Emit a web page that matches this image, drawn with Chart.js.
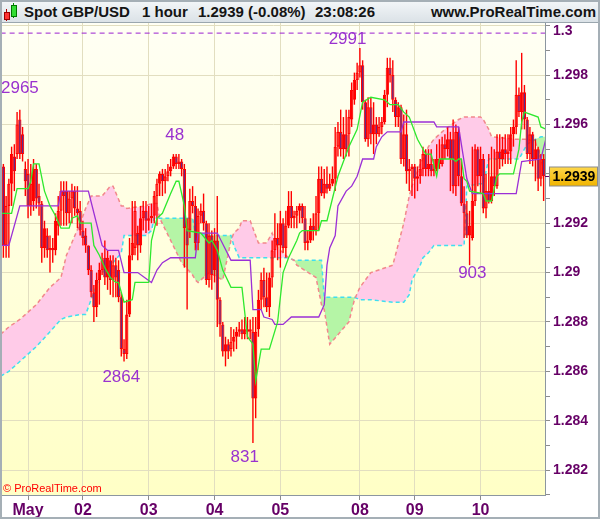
<!DOCTYPE html>
<html>
<head>
<meta charset="utf-8">
<script src="https://cdn.jsdelivr.net/npm/chart.js@4.4.1/dist/chart.umd.min.js"></script>
<style>
  html, body { margin: 0; padding: 0; background: #fff; }
  #wrap { position: relative; width: 600px; height: 519px; overflow: hidden; }
  #chart { position: absolute; left: 0; top: 0; }
  #hdr { position: absolute; left: 0; top: 0; width: 600px; height: 22px;
    background: linear-gradient(#f4f7f9, #dbe2e7); border-bottom: 1px solid #9aa6ae;
    font: bold 15px "Liberation Sans", Arial, sans-serif; color: #141414; }
  #hdr span { position: absolute; top: 3px; white-space: nowrap; }
  .ico { position: absolute; }
  #copy { position: absolute; left: 3px; top: 482px; font: 11px "Liberation Sans", Arial, sans-serif; color: #f00; }
  #frame { position: absolute; left: 0; top: 0; width: 596px; height: 515px; border: 2px solid #a5afb6; pointer-events: none; }
</style>
</head>
<body>
<div id="wrap">
  <canvas id="chart" width="600" height="519"></canvas>
  <div id="hdr">
    <div class="ico" style="left:6px;top:9px;width:1px;height:12px;background:#a00;"></div>
    <div class="ico" style="left:4px;top:12px;width:4px;height:6px;background:#f33;border:1px solid #900;"></div>
    <div class="ico" style="left:13px;top:3px;width:1px;height:15px;background:#080;"></div>
    <div class="ico" style="left:11px;top:5px;width:4px;height:10px;background:#3d3;border:1px solid #070;"></div>
    <span style="left:24px">Spot GBP/USD</span>
    <span style="left:142px">1 hour</span>
    <span style="left:198px">1.2939 (-0.08%)</span>
    <span style="left:315px">23:08:26</span>
    <span style="right:4px">www.ProRealTime.com</span>
  </div>
  <div id="copy">© ProRealTime.com</div>
  <div id="frame"></div>
</div>
<script>
// hourly candles, bar index 0..197
const openP = [1.2943,1.2911,1.2927,1.2936,1.2947,1.2948,1.2962,1.2956,1.2942,1.2940,
1.2927,1.2929,1.2942,1.2931,1.2928,1.2910,1.2915,1.2909,1.2910,1.2909,
1.2919,1.2925,1.2933,1.2933,1.2924,1.2930,1.2933,1.2926,1.2925,1.2917,
1.2915,1.2911,1.2901,1.2892,1.2886,1.2897,1.2901,1.2906,1.2898,1.2905,
1.2897,1.2903,1.2901,1.2890,1.2869,1.2867,1.2883,1.2907,1.2910,1.2916,
1.2911,1.2922,1.2925,1.2921,1.2922,1.2923,1.2931,1.2936,1.2940,1.2937,
1.2939,1.2941,1.2943,1.2947,1.2944,1.2945,1.2942,1.2918,1.2917,1.2929,
1.2927,1.2912,1.2923,1.2925,1.2920,1.2897,1.2915,1.2901,1.2913,1.2889,
1.2879,1.2868,1.2871,1.2869,1.2872,1.2874,1.2876,1.2877,1.2875,1.2877,
1.2876,1.2876,1.2849,1.2877,1.2889,1.2897,1.2890,1.2886,1.2898,1.2909,
1.2914,1.2911,1.2920,1.2910,1.2919,1.2927,1.2922,1.2923,1.2925,1.2927,
1.2922,1.2912,1.2913,1.2919,1.2917,1.2924,1.2938,1.2932,1.2936,1.2934,
1.2936,1.2938,1.2951,1.2957,1.2950,1.2956,1.2956,1.2962,1.2970,1.2978,
1.2981,1.2984,1.2969,1.2954,1.2967,1.2956,1.2960,1.2956,1.2959,1.2961,
1.2972,1.2983,1.2980,1.2970,1.2963,1.2967,1.2946,1.2956,1.2941,1.2942,
1.2943,1.2938,1.2939,1.2942,1.2948,1.2942,1.2944,1.2941,1.2942,1.2946,
1.2944,1.2952,1.2950,1.2954,1.2954,1.2935,1.2957,1.2939,1.2928,1.2924,
1.2915,1.2914,1.2929,1.2950,1.2939,1.2946,1.2926,1.2933,1.2929,1.2939,
1.2935,1.2949,1.2946,1.2950,1.2948,1.2949,1.2956,1.2959,1.2972,1.2965,
1.2973,1.2962,1.2948,1.2956,1.2946,1.2950,1.2938,1.2946];
const highP = [1.2944,1.2931,1.2938,1.2951,1.2952,1.2965,1.2966,1.2959,1.2945,1.2946,
1.2944,1.2946,1.2944,1.2936,1.2929,1.2921,1.2918,1.2915,1.2914,1.2924,
1.2931,1.2937,1.2937,1.2937,1.2933,1.2936,1.2935,1.2935,1.2929,1.2921,
1.2918,1.2911,1.2903,1.2895,1.2900,1.2904,1.2908,1.2913,1.2909,1.2907,
1.2907,1.2906,1.2905,1.2892,1.2873,1.2889,1.2914,1.2929,1.2929,1.2919,
1.2927,1.2929,1.2929,1.2927,1.2928,1.2933,1.2938,1.2941,1.2942,1.2942,
1.2944,1.2946,1.2948,1.2948,1.2948,1.2946,1.2944,1.2922,1.2934,1.2935,
1.2931,1.2926,1.2928,1.2932,1.2921,1.2920,1.2917,1.2918,1.2931,1.2890,
1.2880,1.2874,1.2873,1.2878,1.2877,1.2878,1.2880,1.2881,1.2882,1.2882,
1.2881,1.2882,1.2882,1.2893,1.2900,1.2902,1.2900,1.2900,1.2913,1.2924,
1.2920,1.2925,1.2922,1.2925,1.2933,1.2933,1.2925,1.2927,1.2928,1.2928,
1.2927,1.2917,1.2922,1.2924,1.2931,1.2943,1.2943,1.2942,1.2943,1.2940,
1.2943,1.2959,1.2961,1.2966,1.2963,1.2966,1.2966,1.2977,1.2981,1.2985,
1.2991,1.2986,1.2970,1.2971,1.2971,1.2969,1.2963,1.2963,1.2963,1.2974,
1.2987,1.2987,1.2986,1.2971,1.2969,1.2968,1.2964,1.2966,1.2946,1.2944,
1.2944,1.2943,1.2946,1.2951,1.2950,1.2950,1.2950,1.2946,1.2952,1.2954,
1.2955,1.2956,1.2959,1.2957,1.2962,1.2960,1.2959,1.2946,1.2935,1.2929,
1.2925,1.2951,1.2952,1.2951,1.2951,1.2948,1.2940,1.2948,1.2951,1.2950,
1.2956,1.2956,1.2955,1.2956,1.2956,1.2959,1.2962,1.2986,1.2975,1.2989,
1.2976,1.2963,1.2959,1.2957,1.2954,1.2951,1.2948,1.2948];
const lowP = [1.2906,1.2906,1.2906,1.2927,1.2933,1.2946,1.2946,1.2945,1.2931,1.2922,
1.2923,1.2925,1.2926,1.2923,1.2904,1.2906,1.2906,1.2900,1.2904,1.2907,
1.2915,1.2919,1.2919,1.2919,1.2920,1.2920,1.2923,1.2918,1.2915,1.2911,
1.2908,1.2899,1.2890,1.2880,1.2882,1.2887,1.2899,1.2895,1.2893,1.2891,
1.2890,1.2890,1.2888,1.2866,1.2864,1.2865,1.2882,1.2905,1.2907,1.2905,
1.2908,1.2917,1.2916,1.2917,1.2920,1.2920,1.2919,1.2931,1.2931,1.2932,
1.2937,1.2939,1.2942,1.2942,1.2942,1.2939,1.2902,1.2885,1.2914,1.2924,
1.2909,1.2909,1.2920,1.2917,1.2895,1.2894,1.2893,1.2896,1.2878,1.2874,
1.2866,1.2862,1.2865,1.2866,1.2868,1.2869,1.2874,1.2873,1.2873,1.2873,
1.2873,1.2831,1.2841,1.2874,1.2885,1.2886,1.2884,1.2882,1.2894,1.2906,
1.2905,1.2902,1.2908,1.2906,1.2918,1.2918,1.2918,1.2918,1.2920,1.2920,
1.2909,1.2909,1.2912,1.2913,1.2915,1.2917,1.2931,1.2930,1.2932,1.2933,
1.2935,1.2933,1.2947,1.2947,1.2946,1.2947,1.2947,1.2959,1.2968,1.2974,
1.2979,1.2966,1.2953,1.2951,1.2952,1.2948,1.2952,1.2955,1.2956,1.2960,
1.2967,1.2977,1.2965,1.2959,1.2959,1.2944,1.2943,1.2936,1.2933,1.2931,
1.2930,1.2933,1.2936,1.2939,1.2939,1.2939,1.2939,1.2939,1.2941,1.2942,
1.2943,1.2946,1.2947,1.2933,1.2932,1.2931,1.2935,1.2927,1.2914,1.2914,
1.2903,1.2913,1.2927,1.2935,1.2932,1.2924,1.2922,1.2928,1.2928,1.2931,
1.2934,1.2942,1.2943,1.2944,1.2944,1.2944,1.2951,1.2956,1.2963,1.2958,
1.2958,1.2946,1.2944,1.2943,1.2937,1.2933,1.2935,1.2929];
const closeP = [1.2911,1.2927,1.2936,1.2948,1.2941,1.2960,1.2948,1.2948,1.2937,1.2927,
1.2936,1.2942,1.2930,1.2928,1.2910,1.2918,1.2909,1.2910,1.2909,1.2921,
1.2925,1.2933,1.2931,1.2924,1.2930,1.2933,1.2926,1.2924,1.2917,1.2914,
1.2911,1.2901,1.2892,1.2886,1.2897,1.2901,1.2905,1.2898,1.2906,1.2897,
1.2903,1.2898,1.2890,1.2869,1.2867,1.2883,1.2907,1.2912,1.2925,1.2911,
1.2922,1.2925,1.2921,1.2922,1.2923,1.2931,1.2936,1.2940,1.2937,1.2939,
1.2941,1.2943,1.2947,1.2944,1.2945,1.2942,1.2918,1.2911,1.2929,1.2927,
1.2912,1.2923,1.2925,1.2920,1.2897,1.2915,1.2899,1.2913,1.2889,1.2879,
1.2868,1.2871,1.2868,1.2872,1.2874,1.2876,1.2877,1.2875,1.2877,1.2876,
1.2877,1.2849,1.2876,1.2889,1.2897,1.2890,1.2886,1.2898,1.2909,1.2914,
1.2911,1.2920,1.2910,1.2919,1.2927,1.2922,1.2923,1.2925,1.2927,1.2922,
1.2912,1.2913,1.2919,1.2917,1.2924,1.2938,1.2932,1.2936,1.2934,1.2936,
1.2938,1.2951,1.2957,1.2950,1.2956,1.2950,1.2963,1.2974,1.2978,1.2981,
1.2984,1.2969,1.2954,1.2967,1.2956,1.2960,1.2956,1.2959,1.2961,1.2972,
1.2983,1.2980,1.2970,1.2963,1.2967,1.2946,1.2956,1.2941,1.2942,1.2943,
1.2938,1.2939,1.2942,1.2948,1.2942,1.2944,1.2941,1.2942,1.2946,1.2944,
1.2952,1.2950,1.2954,1.2946,1.2935,1.2957,1.2939,1.2928,1.2924,1.2915,
1.2919,1.2929,1.2950,1.2939,1.2946,1.2926,1.2933,1.2929,1.2939,1.2935,
1.2949,1.2946,1.2950,1.2948,1.2949,1.2956,1.2959,1.2972,1.2965,1.2973,
1.2962,1.2948,1.2956,1.2946,1.2950,1.2938,1.2946,1.2939];

// Ichimoku lines, read at their turning points (bar index, price)
const tenkanX = [-1,3,5,9,10,11,13,15,17,19,21,24,25,27,28,32,33,35,37,39,41,42,44,47,48,53,54,56,58,61,
63,64,66,67,72,75,76,78,80,83,87,89,91,92,94,97,100,102,104,107,108,109,115,116,118,122,126,129,131,134,
139,141,144,146,148,151,154,156,158,159,164,165,166,167,168,169,170,175,176,178,180,181,186,188,189,190,195,196,198];
const tenkanY = [1.2924,1.2924,1.2934,1.2934,1.2937,1.2944,1.2944,1.2933,1.2927,1.2923,
1.2918,1.2918,1.2922,1.2923,1.2920,1.2920,1.2911,1.2907,1.2902,1.2898,
1.2896,1.2896,1.2888,1.2889,1.2896,1.2896,1.2913,1.2922,1.2924,1.2932,
1.2937,1.2937,1.2927,1.2917,1.2916,1.2912,1.2913,1.2909,1.2901,1.2894,
1.2894,1.2874,1.2871,1.2856,1.2869,1.2869,1.2880,1.2900,1.2906,1.2913,
1.2916,1.2917,1.2917,1.2921,1.2921,1.2939,1.2951,1.2958,1.2969,1.2971,
1.2970,1.2968,1.2968,1.2965,1.2963,1.2954,1.2948,1.2948,1.2939,1.2946,
1.2946,1.2945,1.2946,1.2946,1.2938,1.2937,1.2933,1.2932,1.2929,1.2929,
1.2939,1.2940,1.2940,1.2950,1.2961,1.2965,1.2963,1.2959,1.2958];
const kijunX = [-1,2,6,20,21,31,36,38,42,44,49,54,56,58,61,70,71,78,83,90,91,94,95,98,99,102,105,115,117,118,
119,121,122,125,127,129,131,135,136,138,140,145,146,157,158,166,169,170,171,187,189,196,198];
const kijunY = [1.2911,1.2911,1.2927,1.2927,1.2933,1.2933,1.2911,1.2909,1.2909,1.2900,
1.2900,1.2896,1.2901,1.2904,1.2906,1.2906,1.2916,1.2916,1.2905,1.2905,
1.2885,1.2885,1.2882,1.2881,1.2879,1.2879,1.2882,1.2882,1.2887,1.2903,
1.2910,1.2915,1.2927,1.2933,1.2935,1.2939,1.2946,1.2946,1.2951,1.2955,
1.2957,1.2957,1.2961,1.2961,1.2959,1.2959,1.2938,1.2935,1.2932,1.2932,
1.2945,1.2946,1.2955];
const spanX = [-1,2,6,12,17,21,23,28,30,32,35,36,39,40,43,44,45,52,54,55,
56,57,65,69,70,71,75,80,83,84,86,87,90,93,96,98,100,104,106,107,
114,116,117,119,126,128,130,134,142,146,148,149,152,153,155,157,161,166,168,169,
174,175,177,178,187,188,191,194,196,198];
const spanA = [1.2858,1.2860,1.2864,1.2870,1.2876,1.2881,1.2882,1.2883,1.2883,1.2889,
1.2898,1.2900,1.2903,1.2904,1.2908,1.2915,1.2915,1.2915,1.2917,1.2922,
1.2922,1.2922,1.2922,1.2922,1.2916,1.2916,1.2915,1.2915,1.2915,1.2911,
1.2906,1.2906,1.2906,1.2906,1.2906,1.2906,1.2906,1.2906,1.2905,1.2905,
1.2905,1.2905,1.2890,1.2890,1.2890,1.2890,1.2889,1.2889,1.2888,1.2888,
1.2891,1.2897,1.2903,1.2906,1.2908,1.2911,1.2911,1.2911,1.2911,1.2935,
1.2936,1.2936,1.2946,1.2946,1.2946,1.2946,1.2952,1.2954,1.2955,1.2955];
const spanB = [1.2875,1.2878,1.2881,1.2887,1.2894,1.2898,1.2907,1.2920,1.2926,1.2931,
1.2931,1.2931,1.2935,1.2935,1.2927,1.2927,1.2926,1.2927,1.2928,1.2928,
1.2928,1.2922,1.2904,1.2899,1.2897,1.2896,1.2900,1.2897,1.2913,1.2916,
1.2918,1.2921,1.2921,1.2912,1.2912,1.2916,1.2910,1.2906,1.2905,1.2903,
1.2898,1.2887,1.2885,1.2871,1.2880,1.2889,1.2894,1.2900,1.2903,1.2920,
1.2931,1.2935,1.2944,1.2946,1.2951,1.2954,1.2958,1.2962,1.2963,1.2963,
1.2963,1.2962,1.2958,1.2955,1.2954,1.2954,1.2954,1.2953,1.2946,1.2938];

const refPrice = 1.2997;
const lastPrice = 1.2939;

// swing labels
const markText = ['2965', '48', '2864', '831', '2991', '903'];
const markIndex = [6, 62.5, 43, 88, 125.5, 171];
const markPrice = [1.2965, 1.2948, 1.2864, 1.2831, 1.2991, 1.2903];

// axes
const dayIdx = [9, 29, 53, 77, 101, 130, 150, 174];
const dayLbl = ['May', '02', '03', '04', '05', '08', '09', '10'];
const priceTicks = [1.281, 1.282, 1.283, 1.284, 1.285, 1.286, 1.287, 1.288, 1.289, 1.29,
  1.291, 1.292, 1.293, 1.294, 1.295, 1.296, 1.297, 1.298, 1.299, 1.3];

const FONT = '"Liberation Sans", Arial, sans-serif';
const RED = '#ff0000';
const isMajor = v => Math.round(v * 1000) % 2 === 0;

const pts = (xs, ys) => xs.map((x, k) => ({ x: x, y: ys[k] }));

const decor = {
  id: 'decor',
  beforeDraw(chart) {
    const { ctx, chartArea: a } = chart;
    ctx.save();
    ctx.fillStyle = '#ffffff';
    ctx.fillRect(0, 0, chart.width, chart.height);
    const g = ctx.createLinearGradient(0, a.top, 0, a.bottom);
    g.addColorStop(0, '#fffff4');
    g.addColorStop(1, '#ffffc6');
    ctx.fillStyle = g;
    ctx.fillRect(a.left, a.top, a.right - a.left, a.bottom - a.top);
    ctx.restore();
  },
  afterDatasetsDraw(chart) {
    const { ctx, scales: { x, y } } = chart;
    const offs = [-24, -19, 16, 14, -9, 8];
    ctx.save();
    ctx.font = '17px ' + FONT;
    ctx.fillStyle = '#9a32cf';
    ctx.textAlign = 'center';
    ctx.textBaseline = 'middle';
    markText.forEach((t, k) => {
      let px = x.getPixelForValue(markIndex[k]);
      const w = ctx.measureText(t).width;
      px = Math.max(px, 1 + w / 2);
      ctx.fillText(t, px, y.getPixelForValue(markPrice[k]) + offs[k]);
    });
    ctx.restore();
  },
  afterDraw(chart) {
    const { ctx, chartArea: a, scales: { y } } = chart;
    ctx.save();
    // top label of the price axis
    ctx.font = 'bold 14px ' + FONT;
    ctx.fillStyle = '#660066';
    ctx.textBaseline = 'middle';
    ctx.fillText('1.3', a.right + 8, 31);
    // last price box
    const py = Math.round(y.getPixelForValue(lastPrice)) + 0.5;
    ctx.strokeStyle = '#6a006a';
    ctx.lineWidth = 1;
    ctx.beginPath();
    ctx.moveTo(a.right, py);
    ctx.lineTo(a.right + 5, py);
    ctx.stroke();
    const bx = a.right + 4.5, by = py - 9.5, bw = 48, bh = 19;
    const g = ctx.createLinearGradient(0, by, 0, by + bh);
    g.addColorStop(0, '#ffd84a');
    g.addColorStop(1, '#f0b400');
    ctx.fillStyle = g;
    ctx.fillRect(bx, by, bw, bh);
    ctx.strokeStyle = '#8c8c8c';
    ctx.strokeRect(bx, by, bw, bh);
    ctx.fillStyle = '#000';
    ctx.fillText(lastPrice.toFixed(4), bx + 3, py + 1);
    ctx.restore();
  }
};

const chart = new Chart(document.getElementById('chart'), {
  type: 'bar',
  data: {
    datasets: [
      {
        type: 'line', data: pts(spanX, spanA), borderColor: '#3fdff0', borderWidth: 1.5,
        borderDash: [4, 3], pointRadius: 0, tension: 0, order: 10,
        fill: { target: '+1', above: '#b5f5a6', below: '#ffcbe8' }
      },
      {
        type: 'line', data: pts(spanX, spanB), borderColor: '#f2878b', borderWidth: 1.5,
        borderDash: [4, 3], pointRadius: 0, tension: 0, order: 9, fill: false
      },
      {
        data: lowP.map((l, i) => ({ x: i, y: [l, highP[i]] })),
        backgroundColor: RED, barThickness: 1.4, grouped: false, inflateAmount: 0, order: 8
      },
      {
        data: openP.map((o, i) => ({ x: i, y: [o, closeP[i]] })),
        backgroundColor: c => closeP[c.dataIndex] < openP[c.dataIndex] ? '#5c2a8c' : 'rgba(0,0,0,0)',
        borderColor: RED, borderWidth: 1.1, borderSkipped: false, barThickness: 3.3,
        minBarLength: 2, grouped: false, inflateAmount: 0, order: 7
      },
      {
        type: 'line', data: [{ x: -1, y: refPrice }, { x: 198, y: refPrice }], borderColor: '#9a1fd0',
        borderWidth: 1, borderDash: [5, 4], pointRadius: 0, order: 3
      },
      {
        type: 'line', data: pts(kijunX, kijunY), borderColor: '#9b2fd6', borderWidth: 1.3,
        pointRadius: 0, tension: 0, order: 2
      },
      {
        type: 'line', data: pts(tenkanX, tenkanY), borderColor: '#2ee82e', borderWidth: 1.3,
        pointRadius: 0, tension: 0, order: 1
      }
    ]
  },
  options: {
    responsive: false,
    animation: false,
    devicePixelRatio: 1,
    layout: { padding: { left: 2, top: 23, right: 2, bottom: 2 } },
    plugins: { legend: { display: false }, tooltip: { enabled: false } },
    scales: {
      x: {
        type: 'linear', min: -0.5, max: 197.5, offset: false,
        grid: { offset: false, color: '#e2dec0', tickLength: 5, tickColor: '#8c8c8c' },
        border: { display: true, color: '#8c96a0' },
        afterBuildTicks: s => { s.ticks = dayIdx.map(v => ({ value: v })); },
        ticks: {
          autoSkip: false, maxRotation: 0, padding: 1, color: '#660066',
          font: { family: FONT, size: 16, weight: 'bold' },
          callback: (v, k) => dayLbl[k]
        },
        afterFit: s => { s.height = 22; }
      },
      y: {
        type: 'linear', position: 'right', min: 1.28099, max: 1.30011,
        grid: {
          color: c => (c.tick && isMajor(c.tick.value)) ? '#e2dec0' : 'rgba(0,0,0,0)',
          tickLength: 5, tickColor: '#8c8c8c'
        },
        border: { display: true, color: '#8c96a0' },
        afterBuildTicks: s => { s.ticks = priceTicks.map(v => ({ value: v })); },
        ticks: {
          autoSkip: false, padding: 3, color: '#660066',
          font: { family: FONT, size: 14, weight: 'bold' },
          callback: v => (isMajor(v) && v < 1.2995) ? String(+v.toFixed(3)) : ''
        },
        afterFit: s => { s.width = 53; }
      }
    }
  },
  plugins: [decor]
});
</script>
</body>
</html>
